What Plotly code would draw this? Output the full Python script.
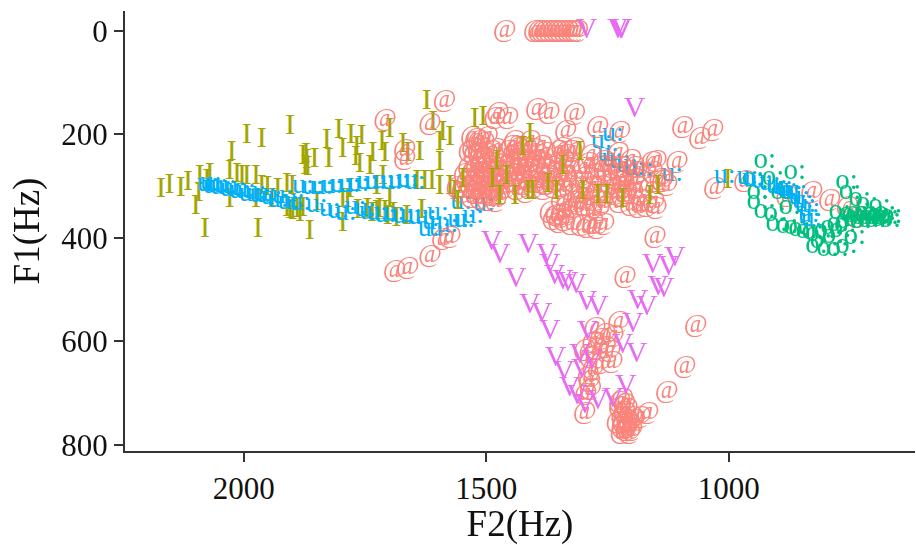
import plotly.graph_objects as go

# (F2, F1) readings in Hz
at_points = [
 (1462,0),(1400,0),(1392,0),(1385,0),(1378,0),(1370,0),(1362,0),(1355,0),(1348,0),(1340,0),(1332,0),(1325,0),(1318,0),(1312,0),
 (1709,171),(1586,135),(1616,179),(1668,229),(1668,246),(1689,463),(1662,458),(1616,435),(1590,402),(1575,398),
 (1476,158),(1456,167),(1482,167),(1396,150),(1371,158),(1318,160),(1336,192),(1270,185),(1225,194),(1095,185),(1060,206),(1033,190),
 (1152,398),(1107,252),(1029,302),(1136,290),(1159,252),(1276,573),(1227,561),(1256,585),(1239,588),(1297,615),(1272,613),(1245,617),
 (1241,638),(1280,652),(1287,675),(1297,738),(1219,710),(1128,696),(1091,648),(1068,569),(1214,475),(1167,738),(1183,744),
 (1225,725),(1215,735),(1220,745),(1210,750),(1205,760),(1230,755),(1220,765),(1212,770),(1205,775),(1218,755),(1210,730),(1200,745),(1195,750),(1225,715),(1215,720),(1210,765),(1200,770),(1222,775),
 (1280,600),(1265,595),(1255,610),(1285,630),(1290,665),(1285,690),(1295,700),(1265,640),
 (967,290),(880,318),(829,311),(792,325),(755,339),(735,358),
 (1530,205),(1522,208),(1515,212),(1505,215),(1498,205),(1535,232),(1525,240),(1516,236),(1508,246),(1498,238),(1490,232),(1480,228),
 (1536,262),(1528,270),(1520,262),(1512,272),(1504,264),(1495,270),(1487,262),(1478,270),(1470,258),(1462,246),(1455,232),(1448,222),
 (1540,290),(1532,298),(1524,288),(1515,298),(1507,290),(1498,300),(1490,288),(1482,298),(1474,286),(1466,294),(1458,280),(1450,268),
 (1530,320),(1522,312),(1513,322),(1505,312),(1497,325),(1488,316),(1480,328),(1472,314),(1550,310),(1545,275),(1560,300),
 (1442,212),(1434,225),(1426,240),(1418,225),(1410,212),(1402,228),(1394,240),(1386,222),(1378,235),(1440,255),(1432,268),(1424,258),(1416,272),(1408,250),(1400,262),(1392,275),(1384,255),(1376,268),
 (1445,290),(1438,305),(1425,295),(1418,310),(1410,290),(1402,300),(1390,292),(1382,305),(1372,280),(1365,262),(1360,245),(1352,232),(1344,226),(1336,240),(1330,255),(1325,232),(1318,225),
 (1368,350),(1362,362),(1356,355),(1350,368),(1346,352),(1340,365),(1332,350),(1325,372),(1305,375),(1292,378),(1280,370),(1272,380),(1258,372),
 (1355,285),(1345,298),(1336,280),(1328,305),(1320,290),(1312,320),(1305,300),(1298,335),(1290,315),(1284,345),(1276,325),(1268,345),(1345,325),(1335,338),(1318,340),
 (1300,265),(1290,255),(1284,240),(1276,275),(1268,260),(1262,290),(1258,250),(1250,268),(1244,295),(1236,278),(1228,235),(1222,262),(1215,298),
 (1235,315),(1226,330),(1218,290),(1210,312),(1202,335),(1210,270),(1202,248),(1195,262),(1194,285),(1188,300),(1180,325),(1186,340),(1170,338),(1162,300),(1155,330),(1150,342),(1158,272),(1150,250),(1142,285),(1128,296),
 (1528,225),(1512,252),(1500,282),(1493,310),(1518,305),(1484,245),(1470,280),(1460,300),(1452,255),(1440,238),(1428,282),(1414,262),(1398,250),(1388,282),(1376,295),
 (1362,300),(1352,275),(1340,250),(1328,270),(1306,322),(1296,282),(1282,300),(1272,310),(1260,330),(1248,312),(1240,262),(1228,300),(1220,318),(1208,290),(1198,312),(1190,272),
]
i_points = [
 (2171,306),(2153,298),(2130,304),(2115,294),(2099,340),(2091,281),(2093,315),(2080,383),(2070,277),(2076,290),(2025,235),(2029,271),(2029,325),
 (1994,202),(1963,210),(1905,185),(1971,383),(1975,325),(2014,277),(2004,281),(1994,281),(1975,281),(1963,300),(1942,325),(1951,302),(1911,296),(1930,306),
 (1911,344),(1905,348),(1899,350),(1878,344),(1878,242),(1874,262),(1854,248),(1825,248),(1829,212),(1804,192),(1796,229),(1779,202),(1757,204),(1767,225),(1769,244),(1761,258),
 (1734,238),(1740,263),(1715,215),(1709,238),(1699,190),(1864,387),(1796,373),(1849,331),(1796,325),(1786,325),(1781,306),(1765,348),(1726,350),(1709,350),(1703,358),(1685,363),
 (1664,358),(1633,348),(1699,325),(1672,219),(1637,235),(1662,238),(1623,137),(1726,300),(1713,281),(1643,292),(1627,292),(1524,171),(1507,167),(1610,177),(1590,196),(1575,206),
 (1596,215),(1596,254),(1612,292),(1596,300),(1575,300),(1548,287),(1565,311),(1559,329),(1410,200),(1425,225),(1472,321),(1441,321),(1414,311),(1404,311),(1373,296),(1355,311),
 (1301,311),(1270,319),(1251,319),(1219,325),(1163,321),(1146,300),(1307,235),(1342,262),(1458,281),(1478,252),(1487,287),(1002,290),
 (1870,250),(1868,265),(1872,240),(1900,300),(1890,345),(1884,352),(1745,345),(1735,352),(1720,345),(1692,352),
]
u_points = [
 (2074,296),(2068,294),(2062,300),(2055,298),(2047,302),(2037,300),(2027,306),(2018,304),(2008,310),(1998,308),(1988,315),(1976,312),(1966,318),(1955,315),(1943,322),(1930,326),(1920,320),(1908,330),(1896,327),(1884,333),
 (1878,300),(1858,302),(1838,302),(1818,300),(1800,298),(1782,297),(1764,296),(1745,293),(1728,292),(1712,290),(1695,293),(1680,290),(1662,288),(1648,292),
 (1850,337),(1823,344),(1805,348),(1790,352),(1770,340),(1750,345),(1740,350),(1725,352),(1708,355),(1690,352),(1672,358),(1655,355),(1640,360),(1625,358),
 (1600,352),(1619,383),(1596,383),(1558,365),(1546,365),(1527,358),(1552,331),(1610,370),(1580,375),(1505,335),
 (1262,213),(1239,200),(1249,238),(1225,252),(1177,267),(1117,277),(1240,248),(1210,260),(1195,265),
 (1008,281),(961,283),(931,290),(901,300),(880,306),(860,310),(847,329),(833,344),(829,363),(950,287),(915,295),(890,302),(870,312),(855,322),(842,336),(835,355),
]
v_points = [
 (1489,408),(1472,435),(1414,415),(1375,435),(1369,454),(1359,475),(1342,485),(1332,488),(1315,492),(1439,481),(1410,531),(1386,548),(1369,581),(1293,525),(1270,535),
 (1188,523),(1169,535),(1157,454),(1124,458),(1111,440),(1146,496),(1134,500),(1198,567),(1291,583),(1219,608),(1190,625),(1307,627),(1357,633),(1340,660),(1303,656),(1282,638),
 (1328,690),(1313,706),(1297,723),(1270,715),(1239,713),(1212,687),(1293,0),(1229,0),(1223,0),(1221,0),(1194,152),
]
o_points = [
 (926,252),(864,273),(950,286),(940,310),(940,331),(926,348),(905,354),(901,373),(880,377),(864,379),(854,383),(839,387),(827,388),(819,415),(796,421),(775,421),(757,415),(740,398),
 (819,392),(802,387),(788,379),(775,373),(757,367),(740,363),(724,360),(709,360),(695,360),(682,360),(672,360),(757,292),(750,310),(730,325),(715,335),(689,338),(874,340),(874,310),(909,283),(891,310),(771,350),(750,354),
 (745,356),(735,352),(728,366),(718,352),(712,365),(702,354),(698,365),(690,355),(685,364),(678,352),(668,365),(665,358),(760,375),(770,385),(785,395),(810,405),
]
x_ticks = [2000, 1500, 1000]
y_ticks = [0, 200, 400, 600, 800]
FONT = "Liberation Serif"

# Drawing layers: the reference interleaves its rows, so a series can sit partly above another.
layers = [
 ("I", [p for p in i_points if p[0] >= 1560], "#A3A500", 30, 1),
 ("u:", [p for p in u_points if p[0] >= 1010], "#00B0F6", 28, 1),
 ("@", at_points, "#F8766D", 26, 0.9),
 ("I", [p for p in i_points if p[0] < 1560], "#A3A500", 30, 1),
 ("V", v_points, "#E76BF3", 30, 1),
 ("o:", o_points, "#00BF7D", 29, 1),
 ("u:", [p for p in u_points if p[0] < 1010], "#00B0F6", 28, 1),
]

fig = go.Figure()
for label, points, colour, size, alpha in layers:
    fig.add_trace(go.Scatter(
        x=[p[0] for p in points], y=[p[1] for p in points],
        mode="text", text=[label] * len(points), textposition="middle center",
        textfont=dict(family=FONT, size=size, color=colour), opacity=alpha,
        showlegend=False, name=label))
axis = dict(showgrid=False, zeroline=False, showline=True, linecolor="#333333", linewidth=2,
            ticks="outside", ticklen=9, tickwidth=2, tickcolor="#333333",
            tickfont=dict(family=FONT, size=31, color="#111111"))
fig.update_xaxes(axis, range=[2245, 616], tickvals=x_ticks, ticktext=[str(v) for v in x_ticks],
                 title=dict(text="F2(Hz)", font=dict(family=FONT, size=37, color="#111111"), standoff=12))
fig.update_yaxes(axis, range=[811.5, -38], tickvals=y_ticks, ticktext=[str(v) for v in y_ticks],
                 title=dict(text="F1(Hz)", font=dict(family=FONT, size=37, color="#111111"), standoff=10))
fig.update_layout(width=916, height=545, margin=dict(l=125, r=1, t=11, b=92),
                  plot_bgcolor="white", paper_bgcolor="white")
fig.write_html("out.html", config={"displayModeBar": False}, post_script="document.body.style.margin='0';")
